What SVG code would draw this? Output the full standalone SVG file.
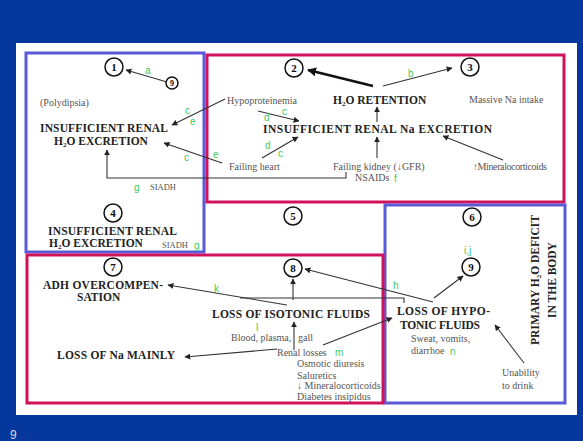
<svg xmlns="http://www.w3.org/2000/svg" width="583" height="441" viewBox="0 0 583 441">
<defs>
<marker id="ah" viewBox="0 0 10 10" refX="9" refY="5" markerWidth="6" markerHeight="6" orient="auto-start-reverse" markerUnits="userSpaceOnUse">
<path d="M0,0 L10,5 L0,10 z" fill="#222"/>
</marker>
<marker id="ahb" viewBox="0 0 10 10" refX="9" refY="5" markerWidth="9" markerHeight="9" orient="auto" markerUnits="userSpaceOnUse">
<path d="M0,0 L10,5 L0,10 z" fill="#111"/>
</marker>
<style>
.bx-b{fill:#fff;stroke:#5a5ad8;stroke-width:3}
.bx-r{fill:#fff;stroke:#d0125a;stroke-width:3}
.t{font-family:"Liberation Serif",serif;font-size:10px;fill:#555}
.h{font-family:"Liberation Serif",serif;font-size:11.5px;font-weight:bold;fill:#222}
.g{font-family:"Liberation Sans",Arial,sans-serif;font-size:10px;fill:#3ccc5a}
.n{font-family:"Liberation Serif",serif;font-size:11px;font-weight:bold;fill:#111;text-anchor:middle}
.c{fill:#fff;stroke:#111;stroke-width:1.5}
.ln{fill:none;stroke:#333;stroke-width:1.1}
.lna{fill:none;stroke:#333;stroke-width:1.1;marker-end:url(#ah)}
</style>
</defs>
<rect x="0" y="0" width="583" height="441" fill="#05379c"/>
<rect x="16" y="43" width="561" height="372" fill="#fff"/>
<text x="10" y="439" font-family="Liberation Sans,sans-serif" font-size="12" fill="#dde">9</text>

<rect class="bx-b" x="26" y="53" width="178" height="199"/>
<rect class="bx-r" x="207" y="55" width="357" height="147"/>
<rect class="bx-b" x="385" y="205" width="180" height="198"/>
<rect class="bx-r" x="27" y="255" width="356" height="148"/>

<g id="connectors">
<line class="lna" x1="167" y1="82" x2="126" y2="70"/>
<line class="lna" x1="225" y1="99" x2="172" y2="125"/>
<line class="lna" x1="222" y1="163" x2="164" y2="143"/>
<polyline class="lna" points="346,172 346,178 107,178 107,150"/>
<line class="lna" x1="258" y1="111" x2="299" y2="121"/>
<line class="lna" x1="262" y1="158" x2="298" y2="137"/>
<line class="lna" x1="377" y1="158" x2="377" y2="137"/>
<line class="lna" x1="377" y1="122" x2="377" y2="107"/>
<line x1="373" y1="86" x2="308" y2="70" stroke="#111" stroke-width="2.5" marker-end="url(#ahb)"/>
<line class="lna" x1="383" y1="86" x2="452" y2="68"/>
<line class="lna" x1="503" y1="160" x2="443" y2="136"/>
<line class="lna" x1="287" y1="305" x2="168" y2="285"/>
<polyline class="ln" points="240,298 404,298 404,303"/>
<line class="lna" x1="293" y1="300" x2="293" y2="279"/>
<line class="lna" x1="433" y1="302" x2="305" y2="269"/>
<line class="lna" x1="294" y1="350" x2="294" y2="322"/>
<line class="lna" x1="277" y1="349" x2="185" y2="357"/>
<line class="lna" x1="323" y1="345" x2="392" y2="318"/>
<line class="lna" x1="434" y1="298" x2="463" y2="276"/>
<line class="lna" x1="524" y1="363" x2="495" y2="325"/>
</g>

<g id="n1"><circle class="c" cx="114" cy="67" r="9"/><text class="n" x="114" y="71">1</text></g>
<g id="n9s"><circle class="c" cx="172" cy="83" r="6"/><text class="n" x="172" y="86" style="font-size:8px">9</text></g>
<g id="n2"><circle class="c" cx="294" cy="68" r="9"/><text class="n" x="294" y="72">2</text></g>
<g id="n3"><circle class="c" cx="470" cy="67" r="9"/><text class="n" x="470" y="71">3</text></g>
<g id="n4"><circle class="c" cx="113" cy="213" r="9"/><text class="n" x="113" y="217">4</text></g>
<g id="n5"><circle class="c" cx="293" cy="216" r="9"/><text class="n" x="293" y="220">5</text></g>
<g id="n6"><circle class="c" cx="472" cy="217" r="9"/><text class="n" x="472" y="221">6</text></g>
<g id="n7"><circle class="c" cx="113" cy="267" r="9"/><text class="n" x="113" y="271">7</text></g>
<g id="n8"><circle class="c" cx="293" cy="268" r="9"/><text class="n" x="293" y="272">8</text></g>
<g id="n9"><circle class="c" cx="471" cy="267" r="9"/><text class="n" x="471" y="271">9</text></g>

<g id="boxA">
<text class="t" x="40" y="106">(Polydipsia)</text>
<text class="h" x="40" y="132" textLength="128">INSUFFICIENT RENAL</text>
<text class="h" x="54" y="145">H<tspan font-size="7" dy="2">2</tspan><tspan dy="-2">O  EXCRETION</tspan></text>
<text class="t" x="150" y="190" style="font-size:8.5px">SIADH</text>
<text class="g" x="134" y="191">g</text>
<text class="g" x="145" y="74">a</text>
<text class="g" x="185" y="114">c</text>
<text class="g" x="190" y="125">e</text>
<text class="g" x="184" y="161">c</text>
</g>
<g id="boxA2">
<text class="h" x="48" y="235" textLength="129">INSUFFICIENT RENAL</text>
<text class="h" x="49" y="247">H<tspan font-size="7" dy="2">2</tspan><tspan dy="-2">O  EXCRETION</tspan></text>
<text class="t" x="162" y="248" style="font-size:8.5px">SIADH</text>
<text class="g" x="194" y="249">g</text>
</g>

<g id="boxB">
<text class="t" x="227" y="104">Hypoproteinemia</text>
<text class="h" x="333" y="104">H<tspan font-size="7" dy="2">2</tspan><tspan dy="-2">O  RETENTION</tspan></text>
<text class="t" x="469" y="103">Massive  Na intake</text>
<text class="h" x="263" y="133" textLength="229" lengthAdjust="spacing">INSUFFICIENT  RENAL  Na  EXCRETION</text>
<text class="t" x="229" y="170">Failing heart</text>
<text class="t" x="333" y="170">Failing kidney (↓GFR)</text>
<text class="t" x="355" y="181">NSAIDs</text>
<text class="g" x="394" y="182">f</text>
<text class="t" x="473" y="170" textLength="74">↑Mineralocorticoids</text>
<text class="g" x="408" y="77">b</text>
<text class="g" x="264" y="121">d</text>
<text class="g" x="282" y="115">c</text>
<text class="g" x="265" y="149">d</text>
<text class="g" x="278" y="157">c</text>
<text class="g" x="213" y="158">e</text>
</g>

<g id="boxC">
<text class="h" x="43" y="289" textLength="120">ADH OVERCOMPEN-</text>
<text class="h" x="77" y="301">SATION</text>
<text class="g" x="214" y="292">k</text>
<text class="h" x="212" y="318" textLength="158">LOSS OF ISOTONIC FLUIDS</text>
<text class="g" x="256" y="331">l</text>
<text class="t" x="231" y="341">Blood, plasma,</text>
<text class="t" x="298" y="341">gall</text>
<text class="t" x="277" y="356">Renal losses</text>
<text class="g" x="335" y="356">m</text>
<text class="t" x="297" y="367">Osmotic diuresis</text>
<text class="t" x="297" y="379">Saluretics</text>
<text class="t" x="297" y="389">↓  Mineralocorticoids</text>
<text class="t" x="297" y="400">Diabetes insipidus</text>
<text class="h" x="57" y="359" textLength="118">LOSS OF Na MAINLY</text>
</g>

<g id="boxD">
<text class="g" x="464" y="254">i,j</text>
<text class="g" x="393" y="289">h</text>
<text class="h" x="397" y="315" textLength="93">LOSS OF HYPO-</text>
<text class="h" x="400" y="329" textLength="80">TONIC FLUIDS</text>
<text class="t" x="411" y="342">Sweat, vomits,</text>
<text class="t" x="411" y="354">diarrhoe</text>
<text class="g" x="450" y="355">n</text>
<text class="t" x="502" y="376">Unability</text>
<text class="t" x="502" y="389">to drink</text>
<text class="h" transform="translate(539,280) rotate(-90)" text-anchor="middle" font-size="11">PRIMARY H<tspan font-size="7" dy="2">2</tspan><tspan dy="-2">O DEFICIT</tspan></text>
<text class="h" transform="translate(556,280) rotate(-90)" text-anchor="middle" font-size="11">IN THE BODY</text>
</g>
</svg>
